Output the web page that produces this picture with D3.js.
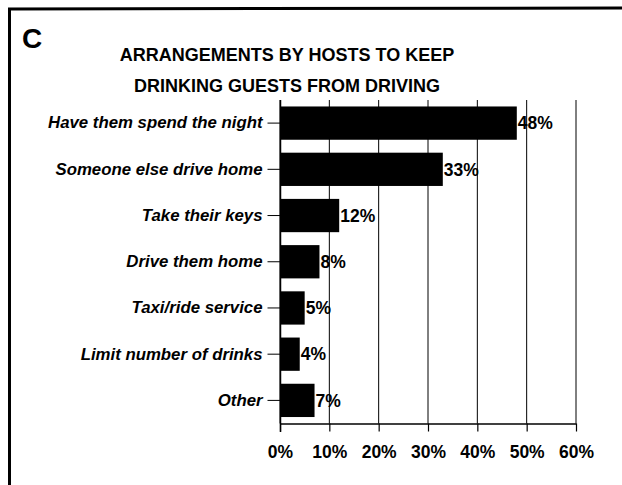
<!DOCTYPE html>
<html>
<head>
<meta charset="utf-8">
<script src="https://cdn.jsdelivr.net/npm/d3@7"></script>
<style>
  html, body { margin: 0; padding: 0; background: #fff; }
  svg { display: block; }
  text { font-family: "Liberation Sans", Arial, Helvetica, sans-serif; fill: #000; }
</style>
</head>
<body>
<svg id="chart" width="622" height="485"></svg>
<script>
const categories = ["Have them spend the night", "Someone else drive home", "Take their keys", "Drive them home", "Taxi/ride service", "Limit number of drinks", "Other"];
const values = [48, 33, 12, 8, 5, 4, 7];
const tickValues = [0, 10, 20, 30, 40, 50, 60];
const titleLines = ["ARRANGEMENTS BY HOSTS TO KEEP", "DRINKING GUESTS FROM DRIVING"];
const panelLetter = "C";

const data = categories.map((c, i) => ({ category: c, value: values[i] }));

const svg = d3.select("#chart");

// panel border (top and left only)
svg.append("path")
  .attr("d", "M9.5,485 L9.5,9 L622,8")
  .attr("fill", "none")
  .attr("stroke", "#000")
  .attr("stroke-width", 3);

svg.append("text")
  .attr("x", 22)
  .attr("y", 48)
  .attr("font-size", 28)
  .attr("font-weight", "bold")
  .text(panelLetter);

svg.selectAll("text.title")
  .data(titleLines)
  .enter().append("text")
  .attr("class", "title")
  .attr("x", 287)
  .attr("y", (d, i) => 61 + i * 31)
  .attr("text-anchor", "middle")
  .attr("font-size", 18)
  .attr("font-weight", "bold")
  .text(d => d);

const x = d3.scaleLinear().domain([0, 60]).range([280, 576]);
const y = d3.scaleBand().domain(categories).range([100, 423.5]).paddingInner(0.28).paddingOuter(0.14);

// gridlines
svg.append("g")
  .selectAll("line")
  .data(tickValues)
  .enter().append("line")
  .attr("x1", d => x(d)).attr("x2", d => x(d))
  .attr("y1", 100).attr("y2", 423.5)
  .attr("stroke", "#000")
  .attr("stroke-width", 1);

// bars
svg.append("g")
  .selectAll("rect")
  .data(data)
  .enter().append("rect")
  .attr("x", x(0))
  .attr("y", d => y(d.category))
  .attr("width", d => x(d.value) - x(0))
  .attr("height", y.bandwidth())
  .attr("fill", "#000");

// value labels
svg.append("g")
  .selectAll("text")
  .data(data)
  .enter().append("text")
  .attr("x", d => x(d.value) + 1)
  .attr("y", d => y(d.category) + y.bandwidth() / 2)
  .attr("dy", "0.36em")
  .attr("font-size", 17.5)
  .attr("font-weight", "bold")
  .text(d => d.value + "%");

// x axis
const xAxis = svg.append("g")
  .attr("transform", "translate(0,423.5)")
  .call(d3.axisBottom(x).tickValues(tickValues).tickFormat(d => d + "%").tickSize(8).tickSizeOuter(0).tickPadding(14));
xAxis.select(".domain").attr("stroke", "#000").attr("stroke-width", 1.5);
xAxis.selectAll(".tick line").attr("stroke", "#000").attr("stroke-width", 1.2);
xAxis.selectAll(".tick text")
  .attr("font-size", 17.5)
  .attr("font-weight", "bold")
  .attr("font-family", "'Liberation Sans', Arial, sans-serif")
  .attr("fill", "#000");

// y axis
const yAxis = svg.append("g")
  .attr("transform", "translate(280.5,0)")
  .call(d3.axisLeft(y).tickSize(13).tickSizeOuter(0).tickPadding(5));
yAxis.select(".domain").attr("stroke", "#000").attr("stroke-width", 1.5).attr("d", "M0,100V432");
yAxis.selectAll(".tick line").attr("stroke", "#000").attr("stroke-width", 1);
yAxis.selectAll(".tick text")
  .attr("font-size", 16.8)
  .attr("font-weight", "bold")
  .attr("font-style", "italic")
  .attr("font-family", "'Liberation Sans', Arial, sans-serif")
  .attr("fill", "#000");
</script>
</body>
</html>
